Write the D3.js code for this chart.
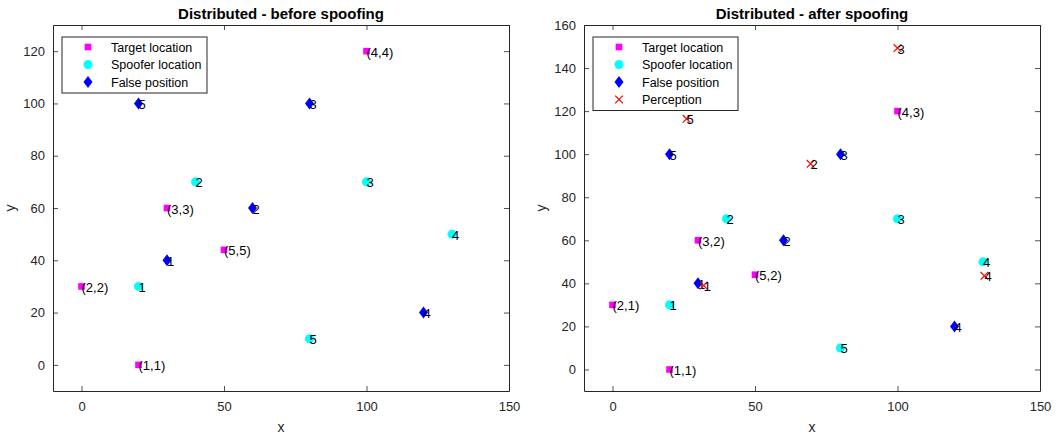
<!DOCTYPE html>
<meta charset="utf-8">
<style>
  body { margin: 0; background: #fff; }
  svg text { font-family: 'Liberation Sans', Arial, Helvetica, sans-serif; }
  .tick text { fill: #262626; font-size: 13px; }
  .domain, .tick line { stroke: #262626; }
</style>
<svg width="1062" height="436"></svg>
<script src="https://d3js.org/d3.v7.min.js"></script>
<script>

// target locations (magenta squares)
var targetX = [20, 0, 30, 100, 50],
    targetY = [0, 30, 60, 120, 44],
    targetLabelsBefore = ["(1,1)", "(2,2)", "(3,3)", "(4,4)", "(5,5)"],
    targetLabelsAfter = ["(1,1)", "(2,1)", "(3,2)", "(4,3)", "(5,2)"];

// spoofer locations (cyan circles)
var spooferX = [20, 40, 100, 130, 80],
    spooferY = [30, 70, 70, 50, 10];

// false positions (blue diamonds)
var falseX = [30, 60, 80, 120, 20],
    falseY = [40, 60, 100, 20, 100];

// perception (red x), only after spoofing
var percX = [32, 69.5, 100, 130.5, 26],
    percY = [39, 95.5, 149.3, 43.5, 116.4];

var ids = ["1", "2", "3", "4", "5"];

var xTicks = [0, 50, 100, 150],
    yTicksBefore = [0, 20, 40, 60, 80, 100, 120],
    yTicksAfter = [0, 20, 40, 60, 80, 100, 120, 140, 160];

var svg = d3.select("svg");

function zip(xs, ys, labels) {
  return xs.map(function (d, i) { return { x: d, y: ys[i], label: labels[i] }; });
}

// matlab style diamond, a bit wider than d3's one
var diamond = {
  draw: function (ctx) {
    ctx.moveTo(0, -6); ctx.lineTo(4.5, 0); ctx.lineTo(0, 6); ctx.lineTo(-4.5, 0); ctx.closePath();
  }
};

function panel(opts) {
  var g = svg.append("g");
  var x = d3.scaleLinear().domain([-10, 150]).range([opts.left, opts.left + 456]);
  var y = d3.scaleLinear().domain(opts.ydomain).range([391, 25]);

  // box axes, ticks pointing inside
  g.append("g").attr("transform", "translate(0,391)")
    .call(d3.axisBottom(x).tickValues(xTicks).tickSizeInner(-5).tickSizeOuter(0).tickPadding(11));
  g.append("g").attr("transform", "translate(0,25)")
    .call(d3.axisTop(x).tickValues(xTicks).tickSizeInner(-5).tickSizeOuter(0).tickFormat(""));
  g.append("g").attr("transform", "translate(" + opts.left + ",0)")
    .call(d3.axisLeft(y).tickValues(opts.yticks).tickSizeInner(-5).tickSizeOuter(0).tickPadding(8));
  g.append("g").attr("transform", "translate(" + (opts.left + 456) + ",0)")
    .call(d3.axisRight(y).tickValues(opts.yticks).tickSizeInner(-5).tickSizeOuter(0).tickFormat(""));
  g.selectAll(".domain").attr("stroke-width", 1);
  g.selectAll(".tick line").attr("stroke-width", 0.8);

  g.append("text").attr("x", opts.left + 228).attr("y", 19)
    .attr("text-anchor", "middle").attr("font-weight", "bold").attr("font-size", 15)
    .text(opts.title);
  g.append("text").attr("x", opts.left + 228).attr("y", 432)
    .attr("text-anchor", "middle").attr("font-size", 14).attr("fill", "#262626").text("x");
  g.append("text").attr("transform", "translate(" + (opts.left - 38) + ",208) rotate(-90)")
    .attr("text-anchor", "middle").attr("font-size", 14).attr("fill", "#262626").text("y");

  var sq = d3.symbol().type(d3.symbolSquare).size(44);
  var ci = d3.symbol().type(d3.symbolCircle).size(64);
  var di = d3.symbol().type(diamond);
  var cr = d3.symbol().type(d3.symbolX).size(40);

  function drawSet(data, sym, fill, stroke) {
    g.selectAll(null).data(data).enter().append("path")
      .attr("d", sym)
      .attr("transform", function (d) { return "translate(" + x(d.x) + "," + y(d.y) + ")"; })
      .attr("fill", fill)
      .attr("stroke", stroke)
      .attr("stroke-width", stroke == "none" ? 0 : 1.2);
    g.selectAll(null).data(data).enter().append("text")
      .attr("x", function (d) { return x(d.x); })
      .attr("y", function (d) { return y(d.y) + 5.5; })
      .attr("font-size", 13).attr("fill", "#000")
      .text(function (d) { return d.label; });
  }

  drawSet(zip(targetX, targetY, opts.targetLabels), sq, "#ff00ff", "none");
  drawSet(zip(spooferX, spooferY, ids), ci, "#00ffff", "none");
  drawSet(zip(falseX, falseY, ids), di, "#0000ff", "none");
  if (opts.perception) drawSet(zip(percX, percY, ids), cr, "none", "#ff0000");

  // legend
  var items = [["Target location", sq, "#ff00ff", "none"],
               ["Spoofer location", ci, "#00ffff", "none"],
               ["False position", di, "#0000ff", "none"]];
  if (opts.perception) items.push(["Perception", cr, "none", "#ff0000"]);
  var lx = opts.left + 9, ly = 37;
  g.append("rect").attr("x", lx).attr("y", ly).attr("width", 145)
    .attr("height", 21 + (items.length - 1) * 17.5)
    .attr("fill", "#fff").attr("stroke", "#262626").attr("stroke-width", 1);
  items.forEach(function (it, i) {
    var cy = ly + 10 + i * 17.5;
    g.append("path").attr("d", it[1])
      .attr("transform", "translate(" + (lx + 26) + "," + cy + ")")
      .attr("fill", it[2]).attr("stroke", it[3]).attr("stroke-width", it[3] == "none" ? 0 : 1.2);
    g.append("text").attr("x", lx + 49).attr("y", cy + 4.5)
      .attr("font-size", 12.5).attr("fill", "#000").text(it[0]);
  });
}

panel({ left: 53, ydomain: [-10, 130], yticks: yTicksBefore, title: "Distributed - before spoofing",
        targetLabels: targetLabelsBefore, perception: false });
panel({ left: 584, ydomain: [-10, 160], yticks: yTicksAfter, title: "Distributed - after spoofing",
        targetLabels: targetLabelsAfter, perception: true });

</script>
